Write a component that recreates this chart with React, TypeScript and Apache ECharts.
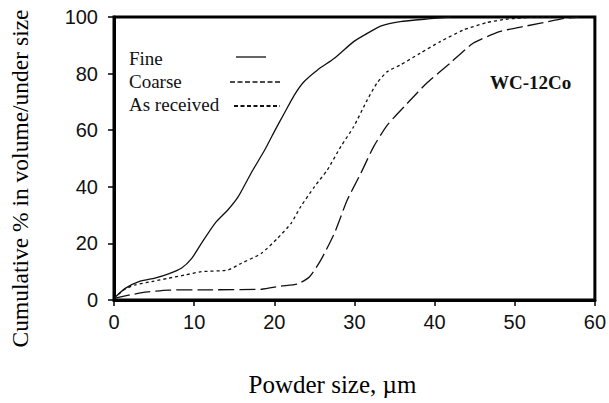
import React, { useEffect, useRef } from "react";
import * as echarts from "echarts";

const xTicks = [0, 10, 20, 30, 40, 50, 60];
const yTicks = [0, 20, 40, 60, 80, 100];

const fineX = [0, 1.4, 3.1, 5.1, 6.8, 8.4, 9.7, 10.9, 12.6, 14.2, 15.5, 17.1, 18.8, 20.0, 21.25, 22.5, 23.7, 25.4, 27.5, 29.9, 31.6, 33.25, 35.7, 39.5, 42];
const fineY = [0.6, 4.1, 6.5, 7.7, 9.2, 11.2, 14.7, 20, 27.1, 31.8, 36.5, 44.8, 53, 59.5, 66, 72.4, 77.1, 81.3, 85.4, 91.3, 94.2, 96.8, 98.4, 99.4, 100];

const coarseX = [0, 3.5, 6.8, 12, 18.4, 20.8, 22.9, 24.4, 25.8, 27.5, 29.1, 30.8, 32.4, 34.1, 36.6, 39.0, 41.9, 44.8, 48.1, 51.4, 54.75, 56.4, 58];
const coarseY = [0.6, 2.6, 3.5, 3.6, 3.8, 4.9, 5.65, 8.2, 14.1, 23.6, 35.3, 44.8, 54.2, 61.8, 69.5, 76.6, 83.6, 90.7, 94.8, 96.8, 98.7, 99.6, 100];

const recvX = [0, 1.2, 2.6, 4.7, 6.8, 8.8, 10.9, 14.2, 15.9, 18.4, 20.4, 22.1, 23.3, 25.0, 26.6, 28.3, 29.9, 31.6, 32.8, 34.1, 35.7, 38.2, 40.7, 43.6, 46.5, 48.9, 52.3, 55];
const recvY = [0.6, 3.5, 5.3, 6.5, 7.7, 8.8, 10.0, 10.6, 13, 16.5, 21.8, 27.1, 33, 40, 45.9, 54.2, 61.2, 70.7, 76.6, 80.7, 83, 87.2, 91.3, 95.4, 98, 99.2, 99.9, 100];

const legendNames = ["Fine", "Coarse", "As received"];

const zip = (xs: number[], ys: number[]) => xs.map((x, i) => [x, ys[i]]);

export default function App() {
  const ref = useRef<HTMLDivElement>(null);
  useEffect(() => {
    if (!ref.current) return;
    const chart = echarts.init(ref.current, null, { renderer: "svg" });
    const serif = "Liberation Serif, Times New Roman, serif";
    const sans = "Liberation Sans, Arial, sans-serif";
    chart.setOption({
      animation: false,
      backgroundColor: "#fff",
      grid: {
        left: 112,
        right: 13,
        top: 17,
        bottom: 103,
        show: true,
        borderColor: "#000",
        borderWidth: 3,
      },
      xAxis: {
        type: "value",
        min: 0,
        max: 60,
        interval: 10,
        name: "Powder size, µm",
        nameLocation: "middle",
        nameGap: 72,
        nameTextStyle: { fontFamily: serif, fontSize: 25, color: "#000", padding: [0, 44, 0, 0] },
        axisLine: { show: true, lineStyle: { color: "#000", width: 3 } },
        axisTick: { show: true, length: 6, lineStyle: { color: "#000", width: 1.5 } },
        axisLabel: {
          fontFamily: sans,
          fontSize: 20,
          color: "#111",
          margin: 12,
          formatter: (v: number) => (xTicks.includes(v) ? String(v) : ""),
        },
        splitLine: { show: false },
      },
      yAxis: {
        type: "value",
        min: 0,
        max: 100,
        interval: 20,
        name: "Cumulative % in volume/under size",
        nameLocation: "middle",
        nameGap: 82,
        nameTextStyle: { fontFamily: serif, fontSize: 23.5, color: "#000", padding: [0, 40, 0, 0] },
        axisLine: { show: true, lineStyle: { color: "#000", width: 3 } },
        axisTick: { show: true, length: 6, lineStyle: { color: "#000", width: 1.5 } },
        axisLabel: {
          fontFamily: sans,
          fontSize: 20,
          color: "#111",
          margin: 16,
          formatter: (v: number) => (yTicks.includes(v) ? String(v) : ""),
        },
        splitLine: { show: false },
      },
      series: [
        {
          name: legendNames[0],
          type: "line",
          data: zip(fineX, fineY),
          showSymbol: false,
          smooth: 0.2,
          lineStyle: { color: "#111", width: 1.3, type: "solid" },
        },
        {
          name: legendNames[1],
          type: "line",
          data: zip(coarseX, coarseY),
          showSymbol: false,
          smooth: 0.2,
          lineStyle: { color: "#111", width: 1.3, type: [16, 5] },
        },
        {
          name: legendNames[2],
          type: "line",
          data: zip(recvX, recvY),
          showSymbol: false,
          smooth: 0.2,
          lineStyle: { color: "#111", width: 1.3, type: [3, 3] },
        },
      ],
      graphic: [
        { type: "text", left: 129, top: 49, style: { text: legendNames[0], font: `19px ${serif}`, fill: "#111" } },
        { type: "text", left: 129, top: 72, style: { text: legendNames[1], font: `19px ${serif}`, fill: "#111" } },
        { type: "text", left: 129, top: 95, style: { text: legendNames[2], font: `19px ${serif}`, fill: "#111" } },
        { type: "line", shape: { x1: 236, y1: 57, x2: 266, y2: 57 }, style: { stroke: "#111", lineWidth: 1.3 } },
        { type: "line", shape: { x1: 230, y1: 82, x2: 282, y2: 82 }, style: { stroke: "#111", lineWidth: 1.3, lineDash: [5, 2.5] } },
        { type: "line", shape: { x1: 234, y1: 106, x2: 280, y2: 106 }, style: { stroke: "#111", lineWidth: 2, lineDash: [4, 2.5] } },
        { type: "text", left: 490, top: 73, style: { text: "WC-12Co", font: `bold 19px ${serif}`, fill: "#111" } },
      ],
    });
    return () => chart.dispose();
  }, []);
  return <div ref={ref} style={{ width: 609, height: 403, position: "absolute", left: 0, top: 0 }} />;
}
